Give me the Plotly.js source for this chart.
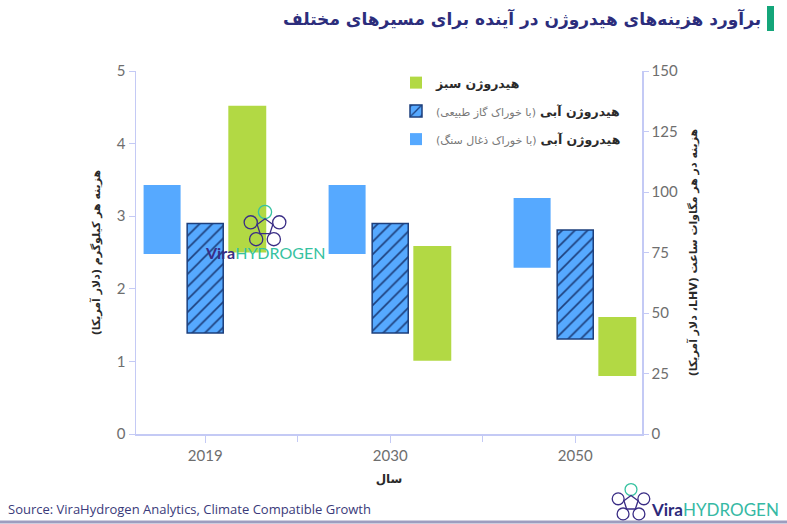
<!DOCTYPE html>
<html>
<head>
<meta charset="utf-8">
<script src="https://cdn.plot.ly/plotly-3.0.1.min.js"></script>
<style>html,body{margin:0;padding:0;background:#fff;}#chart{width:787px;height:524px;}</style>
</head>
<body>
<div id="chart"></div>
<script>
// ---- data ----
const years = ['2019', '2030', '2050'];
const coalLow  = [2.48, 2.48, 2.29];
const coalHigh = [3.43, 3.43, 3.25];
const gasLow   = [1.39, 1.39, 1.31];
const gasHigh  = [2.90, 2.90, 2.81];
const greenLow  = [2.50, 1.01, 0.80];
const greenHigh = [4.52, 2.59, 1.61];
const leftTicks = [0, 1, 2, 3, 4, 5];
const rightTicks = [0, 25, 50, 75, 100, 125, 150];

const nameGreen = '<b>هیدروژن سبز</b>';
const nameGas = '<b>هیدروژن آبی</b> <span style="font-size:11px;color:#777">(با خوراک گاز طبیعی)</span>\u200F';
const nameCoal = '<b>هیدروژن آبی</b> <span style="font-size:11px;color:#777">(با خوراک ذغال سنگ)</span>\u200F';

// ---- layout helpers ----
const L = 136, R = 642, T = 71, B = 434;
const px = x => (x - L) / (R - L);
const py = y => (B - y) / (B - T);

const diff = (hi, lo) => hi.map((v, i) => v - lo[i]);

const traces = [
  {type:'bar', x: years, y: diff(coalHigh, coalLow), base: coalLow, width: 0.2, offset: -0.333,
   marker:{color:'#56a9ff', line:{width:0}}, name: nameCoal, legendgroup:'c', legendrank: 3, hoverinfo:'skip'},
  {type:'bar', x: years, y: diff(gasHigh, gasLow), base: gasLow, width: 0.195, offset: -0.0975,
   marker:{color:'#56a9ff', line:{width:1.5, color:'#1d3f7c'},
     pattern:{shape:'/', fgcolor:'#1d3f7c', bgcolor:'#56a9ff', size:9, solidity:0.18}},
   name: nameGas, legendgroup:'g', legendrank: 2, hoverinfo:'skip'},
  {type:'bar', x: years, y: diff(greenHigh, greenLow), base: greenLow, width: 0.205, offset: 0.125,
   marker:{color:'#b2d944', line:{width:0}}, name: nameGreen, legendgroup:'v', legendrank: 1, hoverinfo:'skip'}
];

const axisColor = '#c4caf5';
const tickFont = {family:'Lato, "Open Sans", sans-serif', size:15, color:'#6e6e6e'};
const arFont = {family:'"DejaVu Sans", sans-serif', size:11, color:'#2a2a2a'};

function icon(cx, cy, s, c1, c2) {
  const out = [];
  const verts = [];
  for (let k = 0; k < 5; k++) {
    const a = (-90 + 72 * k) * Math.PI / 180;
    verts.push([cx + s * 0.5 * Math.cos(a), cy + s * 0.5 * Math.sin(a)]);
  }
  verts.forEach((v, k) => {
    const r = s * 0.22;
    out.push({type:'circle', xref:'paper', yref:'paper',
      x0: px(v[0] - r), x1: px(v[0] + r), y0: py(v[1] + r), y1: py(v[1] - r),
      line:{color: k === 0 ? c2 : c1, width:1.3}, fillcolor:'rgba(0,0,0,0)'});
  });
  const inner = verts.map(v => [cx + (v[0] - cx) * 0.55, cy + (v[1] - cy) * 0.55]);
  let p = 'M ' + inner.map(v => px(v[0]) + ',' + py(v[1])).join(' L ') + ' Z';
  out.push({type:'path', xref:'paper', yref:'paper', path: p, line:{color:c1, width:1.3}});
  return out;
}

const shapes = [
  // title accent bar
  {type:'rect', xref:'paper', yref:'paper', x0: px(767), x1: px(774), y0: py(31), y1: py(6),
   fillcolor:'#14a67a', line:{width:0}},
  // bottom line
  {type:'line', xref:'paper', yref:'paper', x0: px(0), x1: px(787), y0: py(522), y1: py(522),
   line:{color:'#9d9dbf', width:3}}
].concat(icon(265, 227, 30, '#3a2d85', '#36c2a0')).concat(icon(631, 503, 27, '#3a2d85', '#36c2a0'));

const annotations = [
  {xref:'paper', yref:'paper', x: px(763), y: py(19), xanchor:'right', yanchor:'middle', showarrow:false,
   text:'<b>برآورد هزینه‌های هیدروژن در آینده برای مسیرهای مختلف</b>',
   font:{family:'"DejaVu Sans", sans-serif', size:17, color:'#2c2d7c'}},
  {xref:'paper', yref:'paper', x: px(6), y: py(509), xanchor:'left', yanchor:'middle', showarrow:false,
   text:'Source: ViraHydrogen Analytics, Climate Compatible Growth',
   font:{family:'"Open Sans", sans-serif', size:13, color:'#3a3a7a'}},
  {xref:'paper', yref:'paper', x: px(203), y: py(252), xanchor:'left', yanchor:'middle', showarrow:false,
   text:'<span style="color:#3a2d85"><b>Vira</b></span><span style="color:#36c2a0">HYDROGEN</span>',
   font:{family:'Lato, sans-serif', size:16, color:'#36c2a0'}},
  {xref:'paper', yref:'paper', x: px(649), y: py(510), xanchor:'left', yanchor:'middle', showarrow:false,
   text:'<span style="color:#2d2a7a"><b>Vira</b></span><span style="color:#36b9a4">HYDROGEN</span>',
   font:{family:'Lato, sans-serif', size:17, color:'#36b9a4'}}
];

const layout = {
  width: 787, height: 524,
  margin: {l: L, r: 787 - R, t: T, b: 524 - B, pad: 0},
  paper_bgcolor:'#ffffff', plot_bgcolor:'#ffffff',
  barmode:'overlay',
  showlegend: true,
  legend: {x: px(396), y: py(68), xanchor:'left', yanchor:'top', traceorder:'grouped',
    tracegroupgap: 9, font:{family:'"DejaVu Sans", sans-serif', size:12.5, color:'#2a2a2a'},
    bgcolor:'rgba(0,0,0,0)'},
  xaxis: {type:'category', range:[-0.374, 2.361], showgrid:false, zeroline:false,
    showline:true, linecolor:axisColor, linewidth:1.5, ticks:'outside', ticklen:7, tickcolor:axisColor,
    tickson:'labels', tickfont: tickFont,
    title:{text:'<b>سال</b>', font:{family:'"DejaVu Sans", sans-serif', size:12, color:'#2a2a2a'}, standoff: 12}},
  xaxis2: {type:'category', overlaying:'x', side:'bottom', anchor:'y', range:[-0.374, 2.361],
    categoryarray: years, tickson:'boundaries', ticks:'outside', ticklen:7, tickcolor:axisColor,
    showticklabels:false, showline:false, showgrid:false, zeroline:false},
  yaxis: {range:[0, 5], tickvals: leftTicks, showgrid:false, zeroline:false,
    showline:true, linecolor:axisColor, linewidth:1.5, ticks:'outside', ticklen:6, tickcolor:axisColor,
    tickfont: tickFont,
    title:{text:'<b>هزینه هر کیلوگرم (دلار آمریکا)</b>', font: arFont, standoff: 14}},
  yaxis2: {range:[0, 150], tickvals: rightTicks, overlaying:'y', side:'right', anchor:'x', showgrid:false, zeroline:false,
    showline:true, linecolor:axisColor, linewidth:1.5, ticks:'outside', ticklen:5, tickcolor:axisColor,
    tickfont: tickFont,
    title:{text:'\u202B<b>هزینه در هر مگاوات ساعت (LHV، دلار آمریکا)</b>\u202C', font: arFont, standoff: 12}},
  shapes: shapes,
  annotations: annotations
};

// invisible helper trace so the secondary x axis (boundary ticks) is drawn
traces.push({type:'bar', x: years, y: years.map(() => 0), xaxis:'x2', yaxis:'y2', showlegend:false,
  marker:{color:'rgba(0,0,0,0)'}, hoverinfo:'skip'});

Plotly.newPlot('chart', traces, layout, {displayModeBar:false, staticPlot:true});
</script>
</body>
</html>
